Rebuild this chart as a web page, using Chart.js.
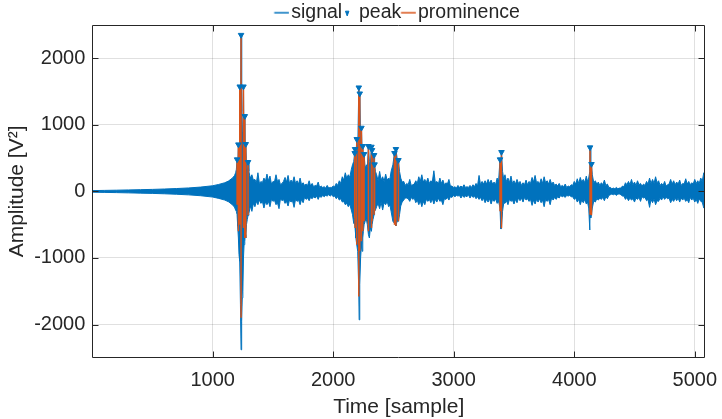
<!DOCTYPE html>
<html><head><meta charset="utf-8">
<script src="https://cdn.jsdelivr.net/npm/chart.js@4"></script>
<style>html,body{margin:0;padding:0;background:#fff}#wrap{width:722px;height:419px;position:relative}</style>
</head><body><div id="wrap"><canvas id="c"></canvas></div>
<script>
const xTicks=[1000,2000,3000,4000,5000];
const yTicks=[-2000,-1000,0,1000,2000];
const sigT=[0,100,200,300,400,500,600,700,800,900,1000,1050,1100,1130,1160,1180,
1190,1196,1202,1207,1213,1218,1224,1230,1235,1240,1245,1250,1255,1260,1266,1270,1274,1280,1287,1293,
1300,1312,1325,1337,1350,1362,1375,1387,1400,1412,1425,1437,1450,1462,1475,1487,1500,1512,1525,1537,1550,1562,1575,1587,1600,1612,1625,1637,1650,1662,1675,1687,1700,1712,1725,1737,1750,1762,1775,1787,1800,1812,1825,1837,1850,1862,1875,1887,1900,1912,1925,1937,1950,1962,1975,1987,2000,2012,2025,2037,2050,2062,2075,2087,2100,2112,2125,2137,2150,
2160,2170,2178,2181,2188,2195,2203,2212,2215,2220,2227,2234,2240,2245,2250,2256,2265,2275,2283,2292,2300,2308,2317,2322,2330,2339,2343,2350,
2360,2372,2385,2397,2410,2422,2435,2447,2460,2470,2480,
2495,2508,2514,2520,2530,2541,2550,
2560,2572,2585,2597,2610,2622,2635,2647,2660,2672,2685,2697,2710,2722,2735,2747,2760,2772,2785,2797,2810,2822,2835,2847,2860,2872,2885,2897,2910,2922,2935,2947,2960,2972,2985,2997,3010,3022,3035,3047,3060,3072,3085,3097,3110,3122,3135,3147,3160,3172,3185,3197,3210,3222,3235,3247,3260,3272,3285,3297,3310,3322,3335,3347,3360,3372,
3384,3390,3396,
3405,3415,3425,3437,3450,3462,3475,3487,3500,3512,3525,3537,3550,3562,3575,3587,3600,3612,3625,3637,3650,3662,3675,3687,3700,3712,3725,3737,3750,3762,3775,3787,3800,3812,3825,3837,3850,3862,3875,3887,3900,3912,3925,3937,3950,3962,3975,3987,4000,4012,4025,4037,4050,4062,4075,4087,4100,4110,4120,
4129,4131,4137,4143,
4150,4162,4175,4187,4200,4212,4225,4237,4250,4262,4275,4287,4300,4312,4325,4337,4350,4362,4375,4387,4400,4412,4425,4437,4450,4462,4475,4487,4500,4512,4525,4537,4550,4562,4575,4587,4600,4612,4625,4637,4650,4662,4675,4687,4700,4712,4725,4737,4750,4762,4775,4787,4800,4812,4825,4837,4850,4862,4875,4887,4900,4912,4925,4937,4950,4962,4975,4987,5000,5012,5025,5037,5050,5062,5075,5085];
const sigHi=[12,15,18,22,26,30,36,43,52,65,85,105,130,155,195,235,
280,330,480,350,705,600,1575,900,2350,1200,900,1000,1575,600,1130,500,710,380,300,440,
300,200,250,170,180,130,280,120,150,130,200,150,260,160,230,110,150,140,250,150,180,100,120,150,210,140,240,120,170,130,220,120,160,110,200,100,130,90,110,90,160,80,120,70,90,80,140,60,80,60,70,50,90,50,60,60,80,70,120,90,160,120,220,170,280,200,250,210,330,
400,450,575,635,500,785,600,1560,900,1470,700,955,600,680,450,560,350,400,350,680,450,400,670,620,380,545,405,300,
250,160,300,170,220,150,260,170,200,180,300,
400,575,450,635,500,470,300,
200,140,150,90,120,100,180,90,100,110,160,120,220,150,250,140,180,130,200,120,160,140,310,130,150,110,200,120,170,100,130,110,180,80,80,60,70,50,90,60,80,60,100,60,70,60,90,60,100,70,120,80,240,100,150,110,160,110,180,120,170,110,140,100,200,150,
480,300,590,
300,180,250,150,200,130,230,120,160,110,180,120,150,90,130,100,170,100,150,120,210,140,240,130,150,110,190,120,220,130,160,110,180,110,140,90,110,80,120,70,90,70,110,60,80,70,100,90,150,110,190,120,210,140,180,130,230,150,200,
300,660,300,410,
250,130,160,110,140,90,130,100,170,90,110,60,60,40,50,40,60,40,50,50,80,70,130,100,150,100,180,100,140,90,160,100,120,80,110,90,150,110,200,120,180,120,220,130,160,90,120,90,150,80,100,110,180,110,160,100,140,110,170,90,120,110,190,110,150,100,130,110,180,120,160,120,200,150,280,200];
const sigLo=[-12,-15,-18,-22,-26,-30,-36,-43,-52,-65,-85,-105,-130,-155,-195,-235,
-280,-300,-350,-520,-700,-950,-1050,-1700,-2380,-1950,-1600,-1500,-1000,-800,-750,-650,-700,-500,-420,-360,
-330,-220,-300,-180,-230,-150,-200,-130,-180,-150,-250,-160,-200,-150,-230,-120,-150,-130,-200,-170,-260,-110,-140,-120,-180,-150,-220,-130,-160,-140,-240,-120,-150,-130,-200,-120,-170,-90,-120,-100,-140,-90,-110,-80,-100,-70,-120,-70,-90,-60,-80,-60,-70,-50,-70,-50,-80,-70,-110,-80,-130,-110,-160,-150,-200,-180,-230,-190,-280,
-350,-480,-500,-550,-700,-800,-900,-1500,-1930,-1400,-1000,-800,-900,-700,-600,-500,-450,-420,-500,-650,-700,-550,-600,-500,-420,-350,-300,-280,
-230,-180,-260,-160,-280,-170,-200,-150,-230,-200,-300,
-450,-480,-500,-520,-450,-450,-350,
-220,-160,-130,-100,-100,-110,-150,-90,-120,-100,-170,-130,-200,-140,-230,-150,-200,-120,-150,-120,-170,-110,-190,-120,-160,-100,-150,-130,-200,-110,-120,-90,-130,-80,-90,-60,-80,-60,-70,-60,-100,-60,-90,-70,-80,-50,-100,-60,-90,-70,-110,-80,-120,-90,-140,-100,-170,-120,-160,-110,-190,-120,-150,-110,-180,-150,
-250,-560,-560,
-300,-170,-180,-140,-200,-120,-150,-130,-190,-120,-170,-100,-140,-100,-160,-90,-130,-110,-150,-120,-210,-130,-190,-120,-160,-110,-170,-130,-230,-120,-150,-120,-200,-100,-130,-90,-120,-80,-100,-60,-80,-70,-90,-60,-70,-60,-80,-80,-120,-100,-160,-120,-200,-130,-170,-120,-190,-160,-250,
-580,-300,-400,-350,
-250,-140,-160,-110,-130,-100,-120,-90,-140,-80,-110,-60,-50,-40,-50,-40,-60,-40,-40,-50,-70,-70,-120,-90,-140,-100,-130,-110,-160,-100,-120,-90,-150,-80,-100,-90,-140,-120,-240,-120,-170,-110,-200,-140,-150,-100,-130,-80,-120,-90,-110,-100,-170,-120,-150,-100,-140,-100,-160,-100,-130,-100,-150,-120,-170,-90,-130,-100,-160,-120,-180,-110,-150,-160,-250,-260];
const peakT=[1202,1213,1224,1235,1255,1266,1274,1293,2178,2181,2195,2212,2220,2234,2245,2256,2292,2317,2322,2339,2343,2508,2520,2541,3384,3396,4131,4143];
const peakV=[480,705,1575,2350,1575,1130,710,440,575,635,785,1560,1470,955,680,560,680,670,620,545,405,575,635,470,480,590,660,410];
const promBase=[-200,-600,-500,-1900,-550,-700,-700,-360,-400,-550,-800,-1580,-900,-750,-600,-450,-600,-550,-450,-350,-300,-500,-520,-450,-300,-555,-350,-360];

const BLUE='#0072BD', ORANGE='#D95319', AX='#262626';
const FONT='"Liberation Sans", Arial, Helvetica, sans-serif';
const hiPts=sigT.map((t,i)=>({x:t,y:sigHi[i]}));
const loPts=sigT.map((t,i)=>({x:t,y:sigLo[i]}));
const promPts=[];
peakT.forEach((t,i)=>{promPts.push({x:t,y:peakV[i]},{x:t,y:promBase[i]},{x:t,y:null});});
const peakPts=peakT.map((t,i)=>({x:t,y:peakV[i]}));

function legendLine(color){
  const c=document.createElement('canvas');c.width=20;c.height=4;
  const g=c.getContext('2d');g.strokeStyle=color;g.lineWidth=1.5;
  g.beginPath();g.moveTo(4.75,2);g.lineTo(19.75,2);g.stroke();return c;
}

const boxPlugin={id:'box',afterDraw(chart){
  const {ctx,chartArea:a,scales:{x,y}}=chart;
  ctx.save();ctx.strokeStyle=AX;ctx.lineWidth=1;
  const L=Math.round(a.left)+0.5,R=Math.round(a.right)-0.5,T=Math.round(a.top)+0.5,B=Math.round(a.bottom)-0.5;
  ctx.beginPath();ctx.rect(L,T,R-L,B-T);
  const tl=6;
  xTicks.forEach(v=>{const p=Math.round(x.getPixelForValue(v))+0.5;ctx.moveTo(p,B);ctx.lineTo(p,B-tl);ctx.moveTo(p,T);ctx.lineTo(p,T+tl);});
  yTicks.forEach(v=>{const p=Math.round(y.getPixelForValue(v))+0.5;ctx.moveTo(L,p);ctx.lineTo(L+tl,p);ctx.moveTo(R,p);ctx.lineTo(R-tl,p);});
  ctx.stroke();ctx.restore();
}};
const legendFit={id:'legendFit',beforeUpdate(chart){
  const lg=chart.legend;
  if(lg&&!lg._patched){const f=lg.fit;lg.fit=function(){f.call(this);this.height=25;};lg._patched=true;}
}};

new Chart(document.getElementById('c'),{
  type:'line',
  data:{datasets:[
    {label:'signal',data:hiPts,borderColor:BLUE,backgroundColor:BLUE,borderWidth:1,pointRadius:0,fill:'+1',order:3,tension:0},
    {label:'signal_lo',data:loPts,borderColor:BLUE,backgroundColor:BLUE,borderWidth:1,pointRadius:0,fill:false,order:2,tension:0},
    {label:'prominence',data:promPts,borderColor:ORANGE,borderWidth:1.5,pointRadius:0,fill:false,spanGaps:false,order:1},
    {label:'peak',data:peakPts,showLine:false,pointStyle:'triangle',rotation:180,pointRadius:3.2,pointBackgroundColor:BLUE,pointBorderColor:BLUE,pointBorderWidth:1,order:0}
  ]},
  options:{
    responsive:true,maintainAspectRatio:false,animation:false,devicePixelRatio:1,
    layout:{padding:{top:0,right:17,left:0,bottom:-1}},
    plugins:{
      tooltip:{enabled:false},
      legend:{display:true,position:'top',fullSize:false,align:'center',
        labels:{usePointStyle:true,pointStyleWidth:4,boxHeight:4.5,padding:3,color:AX,font:{family:FONT,size:19.5},
          generateLabels:()=>[
            {text:'signal',fillStyle:BLUE,strokeStyle:BLUE,lineWidth:1.5,pointStyle:legendLine(BLUE),hidden:false,datasetIndex:0,fontColor:AX},
            {text:'peak',fillStyle:BLUE,strokeStyle:BLUE,lineWidth:1,pointStyle:'triangle',rotation:180,hidden:false,datasetIndex:3,fontColor:AX},
            {text:'prominence',fillStyle:ORANGE,strokeStyle:ORANGE,lineWidth:1.5,pointStyle:legendLine(ORANGE),hidden:false,datasetIndex:2,fontColor:AX}
          ]}}
    },
    scales:{
      x:{type:'linear',min:1,max:5085,
        afterBuildTicks:s=>{s.ticks=xTicks.map(v=>({value:v}));},
        afterFit:s=>{s.paddingLeft=0;s.paddingRight=0;},
        ticks:{callback:v=>String(v),font:{family:FONT,size:20},color:AX,padding:11,maxRotation:0,autoSkip:false},
        grid:{color:'rgba(0,0,0,0.12)',drawTicks:false},border:{display:false},
        title:{display:true,text:'Time [sample]',font:{family:FONT,size:21},color:AX,padding:{top:-9,bottom:0}}},
      y:{type:'linear',min:-2500,max:2500,
        afterBuildTicks:s=>{s.ticks=yTicks.map(v=>({value:v}));},
        ticks:{callback:v=>String(v),font:{family:FONT,size:20},color:AX,padding:7,autoSkip:false},
        grid:{color:'rgba(0,0,0,0.12)',drawTicks:false},border:{display:false},
        title:{display:true,text:'Amplitude [V²]',font:{family:FONT,size:21},color:AX,padding:{top:5,bottom:-3}}}
    }
  },
  plugins:[boxPlugin,legendFit]
});
</script></body></html>
